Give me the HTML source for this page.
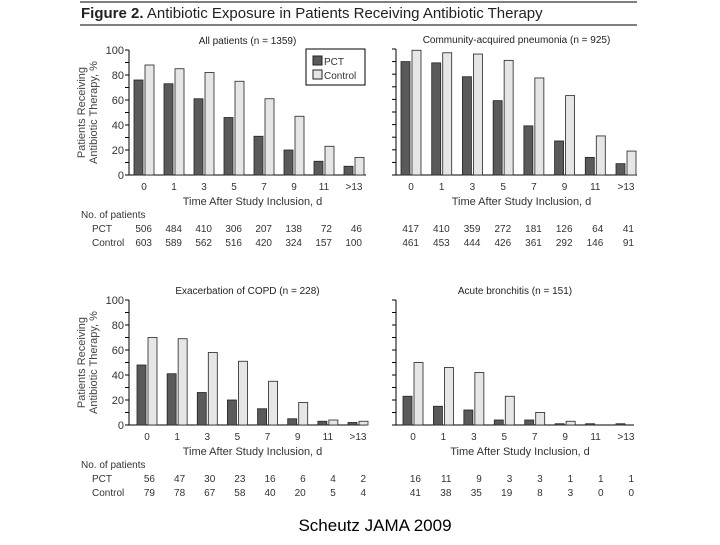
<!DOCTYPE html>
<html><head><meta charset="utf-8"><style>
body{margin:0;background:#fff;width:720px;height:540px;overflow:hidden;font-family:"Liberation Sans",sans-serif}
</style></head><body>
<svg id="fig" width="720" height="540" xmlns="http://www.w3.org/2000/svg" font-family="Liberation Sans, sans-serif">
<line x1="80" y1="2" x2="637" y2="2" stroke="#000" stroke-width="1"/>
<text x="81" y="18" font-size="15" fill="#222"><tspan font-weight="bold">Figure 2.</tspan> Antibiotic Exposure in Patients Receiving Antibiotic Therapy</text>
<line x1="80" y1="25" x2="637" y2="25" stroke="#000" stroke-width="1"/>
<text x="375" y="531" font-size="17" text-anchor="middle" fill="#000">Scheutz JAMA 2009</text>
</svg>
<script>
const categories=["0","1","3","5","7","9","11",">13"];
const yTicks=[0,20,40,60,80,100];
const titles=["All patients (n = 1359)","Community-acquired pneumonia (n = 925)","Exacerbation of COPD (n = 228)","Acute bronchitis (n = 151)"];
const pct1=[76,73,61,46,31,20,11,7];
const ctrl1=[88,85,82,75,61,47,23,14];
const pct2=[90,89,78,59,39,27,14,9];
const ctrl2=[99,97,96,91,77,63,31,19];
const pct3=[48,41,26,20,13,5,3,2];
const ctrl3=[70,69,58,51,35,18,4,3];
const pct4=[23,15,12,4,4,1,1,1];
const ctrl4=[50,46,42,23,10,3,0,0];
const nPct1=["506","484","410","306","207","138","72","46"];
const nCtrl1=["603","589","562","516","420","324","157","100"];
const nPct2=["417","410","359","272","181","126","64","41"];
const nCtrl2=["461","453","444","426","361","292","146","91"];
const nPct3=["56","47","30","23","16","6","4","2"];
const nCtrl3=["79","78","67","58","40","20","5","4"];
const nPct4=["16","11","9","3","3","1","1","1"];
const nCtrl4=["41","38","35","19","8","3","0","0"];

const NS="http://www.w3.org/2000/svg";
const svg=document.getElementById('fig');
function mk(tag,attrs,parent,text){const e=document.createElementNS(NS,tag);for(const k in attrs)e.setAttribute(k,attrs[k]);if(text!==undefined)e.textContent=text;(parent||svg).appendChild(e);return e;}

function panel(p){
  const g=mk('g',{});
  
  
  const y=v=>p.y0-(v/100)*(p.y0-p.y100);
  const x=i=>p.xFirst+i*(p.xLast-p.xFirst)/(categories.length-1);
  const t=mk('text',{x:(p.ax+p.axEnd)/2,y:p.y100-6,'font-size':10,'text-anchor':'middle',fill:'#222'},g,titles[p.idx]);
  
  
  const ya=mk('line',{x1:p.ax,y1:p.y100,x2:p.ax,y2:p.y0,stroke:'#000'},g);
  
  
  const xa=mk('line',{x1:p.ax,y1:p.y0,x2:p.axEnd,y2:p.y0,stroke:'#000'},g);
  
  
  for(let v=0;v<=100;v+=10){
    const tk=mk('line',{x1:p.ax-4,y1:y(v),x2:p.ax,y2:y(v),stroke:'#000'},g);
    
    
  }
  if(p.labels){
    yTicks.forEach(v=>{
      const l=mk('text',{x:p.ax-5,y:y(v)+4,'font-size':11,'text-anchor':'end',fill:'#333'},g,String(v));
      
      
    });
    const cy=(p.y0+p.y100)/2, cx=p.ax-38;
    const yt=mk('text',{x:cx,y:cy,'font-size':11,'text-anchor':'middle',fill:'#444',transform:`rotate(-90 ${cx} ${cy})`},g);
    
    
    mk('tspan',{x:cx,dy:-6},yt,'Patients Receiving');
    mk('tspan',{x:cx,dy:12},yt,'Antibiotic Therapy, %');
  }
  categories.forEach((c,i)=>{
    const cx=x(i);
    const b1=mk('rect',{x:cx-10,y:y(p.pct[i]),width:9,height:p.y0-y(p.pct[i]),fill:'#5a5a5a',stroke:'#222','stroke-width':0.8},g);
    
    
    if(p.ctrl[i]>0){
    const b2=mk('rect',{x:cx+1,y:y(p.ctrl[i]),width:9,height:p.y0-y(p.ctrl[i]),fill:'#e6e6e6',stroke:'#222','stroke-width':0.8},g);
    
    }
    const xl=mk('text',{x:cx,y:p.y0+15,'font-size':10,'text-anchor':'middle',fill:'#333'},g,c);
    
    
    const n1=mk('text',{x:cx+8,y:p.ty+14,'font-size':10,'text-anchor':'end',fill:'#333'},g,p.nP[i]);
    
    
    const n2=mk('text',{x:cx+8,y:p.ty+28,'font-size':10,'text-anchor':'end',fill:'#333'},g,p.nC[i]);
    
    
  });
  const xt=mk('text',{x:(p.ax+p.axEnd)/2+5,y:p.y0+30,'font-size':11,'text-anchor':'middle',fill:'#333'},g,'Time After Study Inclusion, d');
  
  
  if(p.labels){
    const h=mk('text',{x:81,y:p.ty,'font-size':10,fill:'#333'},g,'No. of patients');
    
    
    const r1=mk('text',{x:92,y:p.ty+14,'font-size':10,fill:'#333'},g,'PCT');
    
    
    const r2=mk('text',{x:92,y:p.ty+28,'font-size':10,fill:'#333'},g,'Control');
    
    
  }
}
panel({idx:0,ax:129,axEnd:366,y100:50,y0:175,xFirst:144,xLast:354,pct:pct1,ctrl:ctrl1,nP:nPct1,nC:nCtrl1,ty:218,labels:true});
panel({idx:1,ax:396,axEnd:637,y100:49,y0:175,xFirst:411,xLast:626,pct:pct2,ctrl:ctrl2,nP:nPct2,nC:nCtrl2,ty:218,labels:false});
panel({idx:2,ax:129,axEnd:366,y100:300,y0:425,xFirst:147,xLast:358,pct:pct3,ctrl:ctrl3,nP:nPct3,nC:nCtrl3,ty:468,labels:true});
panel({idx:3,ax:396,axEnd:634,y100:300,y0:425,xFirst:413,xLast:626,pct:pct4,ctrl:ctrl4,nP:nPct4,nC:nCtrl4,ty:468,labels:false});

const lg=mk('g',{});


mk('rect',{x:306,y:49,width:59,height:36,fill:'#fff',stroke:'#000'},lg);
const s1=mk('rect',{x:313,y:56,width:9,height:9,fill:'#5a5a5a',stroke:'#222'},lg);


const l1=mk('text',{x:324,y:65,'font-size':10,fill:'#333'},lg,'PCT');


const s2=mk('rect',{x:313,y:70,width:9,height:9,fill:'#e6e6e6',stroke:'#222'},lg);


const l2=mk('text',{x:324,y:79,'font-size':10,fill:'#333'},lg,'Control');


</script>
</body></html>
